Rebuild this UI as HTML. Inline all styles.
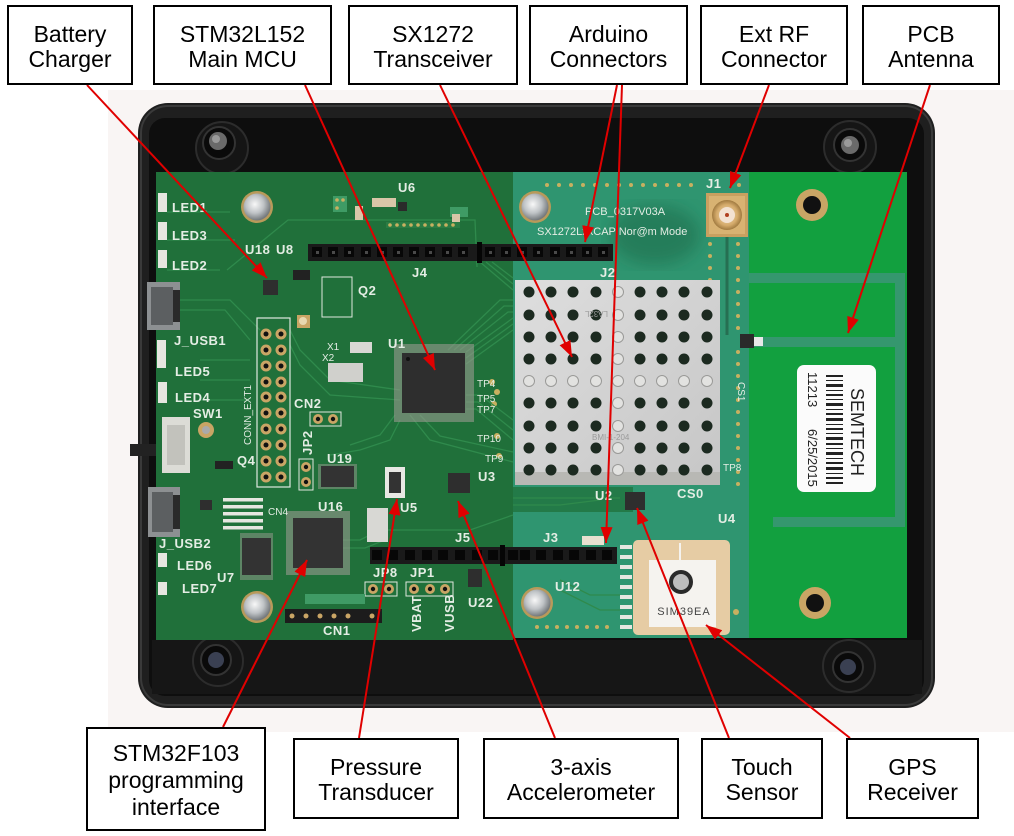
<!DOCTYPE html>
<html><head><meta charset="utf-8">
<style>
html,body{margin:0;padding:0;background:#fff;}
svg{display:block}
.lbl{font-family:"Liberation Sans",Arial,sans-serif;font-size:23px;fill:#000;text-anchor:middle}
.s{font-family:"Liberation Sans",Arial,sans-serif;font-size:13px;fill:#e4ede4;letter-spacing:0.5px;font-weight:bold}
.ss{font-family:"Liberation Sans",Arial,sans-serif;font-size:10px;fill:#e4ede4}
.box{fill:#fff;stroke:#000;stroke-width:2}
.ar{stroke:#e00000;stroke-width:2;fill:none}
.tr{stroke:#2f8a4c;stroke-width:1.3;fill:none}
</style></head><body>
<svg width="1014" height="836" viewBox="0 0 1014 836" xmlns="http://www.w3.org/2000/svg">
<defs>
 <marker id="ah" markerUnits="userSpaceOnUse" markerWidth="16" markerHeight="12" refX="16" refY="6" orient="auto">
  <path d="M0,0 L16,6 L0,12 z" fill="#e00000"/>
 </marker>
 <radialGradient id="scr" cx="42%" cy="40%" r="60%">
  <stop offset="0" stop-color="#f8f8f8"/><stop offset="0.55" stop-color="#bfc3c6"/><stop offset="1" stop-color="#73787b"/>
 </radialGradient>
 <linearGradient id="shg" x1="0" y1="0" x2="1" y2="1">
  <stop offset="0" stop-color="#dedede"/><stop offset="1" stop-color="#c6c6c6"/>
 </linearGradient>
 <radialGradient id="sma" cx="50%" cy="50%" r="50%">
  <stop offset="0" stop-color="#f2dcb8"/><stop offset="0.7" stop-color="#d4aa6a"/><stop offset="1" stop-color="#a07a40"/>
 </radialGradient>
 <filter id="bl"><feGaussianBlur stdDeviation="8"/></filter>
</defs>

<!-- photo background -->
<rect x="108" y="90" width="906" height="642" fill="#f9f5f4"/>

<!-- enclosure -->
<rect x="138" y="103" width="797" height="605" rx="30" fill="#1f1f1f"/>
<rect x="141" y="106" width="791" height="599" rx="27" fill="none" stroke="#3a3a3a" stroke-width="2"/>
<rect x="149" y="118" width="775" height="578" rx="16" fill="#0e0e0e"/>
<rect x="152" y="640" width="770" height="54" fill="#161616"/>
<path d="M130 444 L157 444 L157 456 L130 456 Z" fill="#222"/>

<!-- rubber feet -->
<g>
 <circle cx="222" cy="148" r="26" fill="#151515" stroke="#2c2c2c" stroke-width="2"/>
 <circle cx="219" cy="143" r="16" fill="#0a0a0a" stroke="#333" stroke-width="2"/>
 <circle cx="218" cy="141" r="9" fill="#6a6a6a"/><circle cx="216" cy="139" r="4" fill="#9a9a9a"/>
 <circle cx="850" cy="147" r="26" fill="#151515" stroke="#2c2c2c" stroke-width="2"/>
 <circle cx="850" cy="145" r="16" fill="#0a0a0a" stroke="#333" stroke-width="2"/>
 <circle cx="850" cy="145" r="9" fill="#6a6a6a"/><circle cx="848" cy="143" r="4" fill="#9a9a9a"/>
 <circle cx="218" cy="661" r="25" fill="#151515" stroke="#2c2c2c" stroke-width="2"/>
 <circle cx="216" cy="660" r="15" fill="#0a0a0a" stroke="#333" stroke-width="2"/>
 <circle cx="216" cy="660" r="8" fill="#3a4052"/>
 <circle cx="849" cy="666" r="26" fill="#151515" stroke="#2c2c2c" stroke-width="2"/>
 <circle cx="848" cy="667" r="15" fill="#0a0a0a" stroke="#333" stroke-width="2"/>
 <circle cx="848" cy="667" r="8" fill="#3a4052"/>
</g>

<!-- PCB -->
<rect x="156" y="172" width="357" height="468" fill="#20703a"/>
<rect x="513" y="172" width="236" height="466" fill="#2f9570"/>
<rect x="749" y="172" width="158" height="466" fill="#12a03f"/>
<ellipse cx="655" cy="235" rx="45" ry="30" fill="#1d6a4a" opacity="0.55" filter="url(#bl)"/>
<rect x="513" y="487" width="120" height="25" fill="#237a48"/>

<!-- antenna traces -->
<g stroke="#35976e" stroke-width="10" fill="none">
 <path d="M749 278 L900 278 L900 522 L773 522"/>
 <path d="M752 342 L900 342"/>
</g>
<rect x="754" y="337" width="9" height="9" fill="#e8e8e8"/>
<rect x="740" y="334" width="14" height="14" fill="#2a2a2a"/>

<!-- via columns / dots -->
<g fill="#c8b060">
 <circle cx="547" cy="185" r="2"/><circle cx="559" cy="185" r="2"/><circle cx="571" cy="185" r="2"/><circle cx="583" cy="185" r="2"/><circle cx="595" cy="185" r="2"/><circle cx="607" cy="185" r="2"/><circle cx="619" cy="185" r="2"/><circle cx="631" cy="185" r="2"/><circle cx="643" cy="185" r="2"/><circle cx="655" cy="185" r="2"/><circle cx="667" cy="185" r="2"/><circle cx="679" cy="185" r="2"/><circle cx="691" cy="185" r="2"/><circle cx="739" cy="185" r="2"/>
 <circle cx="738" cy="244" r="2"/><circle cx="738" cy="256" r="2"/><circle cx="738" cy="268" r="2"/><circle cx="738" cy="280" r="2"/><circle cx="738" cy="292" r="2"/><circle cx="738" cy="304" r="2"/><circle cx="738" cy="316" r="2"/><circle cx="738" cy="328" r="2"/><circle cx="738" cy="352" r="2"/><circle cx="738" cy="364" r="2"/><circle cx="738" cy="376" r="2"/><circle cx="738" cy="388" r="2"/><circle cx="738" cy="400" r="2"/><circle cx="738" cy="412" r="2"/><circle cx="738" cy="424" r="2"/><circle cx="738" cy="436" r="2"/><circle cx="738" cy="448" r="2"/><circle cx="738" cy="460" r="2"/><circle cx="738" cy="472" r="2"/><circle cx="738" cy="484" r="2"/>
 <circle cx="710" cy="244" r="2"/><circle cx="710" cy="256" r="2"/><circle cx="710" cy="268" r="2"/><circle cx="710" cy="280" r="2"/>
 <circle cx="537" cy="627" r="2"/><circle cx="547" cy="627" r="2"/><circle cx="557" cy="627" r="2"/><circle cx="567" cy="627" r="2"/><circle cx="577" cy="627" r="2"/><circle cx="587" cy="627" r="2"/><circle cx="597" cy="627" r="2"/><circle cx="607" cy="627" r="2"/>
 <circle cx="492" cy="382" r="3"/><circle cx="497" cy="392" r="3"/><circle cx="494" cy="404" r="3"/><circle cx="497" cy="436" r="3"/><circle cx="499" cy="456" r="3"/>
 <circle cx="690" cy="455" r="3"/><circle cx="736" cy="612" r="3"/>
</g>

<!-- traces on main PCB -->
<g class="tr">
 <path d="M227 270 L288 220 L475 220 L477 267"/>
 <path d="M448 350 L500 300 L513 300"/><path d="M454 350 L504 306 L513 306"/><path d="M460 350 L508 312 L513 312"/>
 <path d="M466 352 L513 318"/><path d="M466 358 L513 324"/><path d="M466 364 L513 330"/>
 <path d="M480 262 L513 290"/><path d="M486 262 L513 284"/><path d="M492 262 L513 278"/>
 <path d="M466 395 L480 395 L513 420"/><path d="M466 402 L478 402 L513 430"/><path d="M466 409 L476 409 L513 440"/>
 <path d="M410 415 L430 440 L513 462"/><path d="M420 415 L440 436 L513 452"/>
 <path d="M400 420 L390 440 L360 450 L330 455"/><path d="M395 415 L380 435 L350 445"/>
 <path d="M343 540 L360 540 L380 530 L470 530 L513 515"/><path d="M343 548 L365 548 L385 540"/>
 <path d="M290 330 L300 350 L330 380 L400 390"/><path d="M290 345 L300 365 L330 395 L400 400"/>
 <path d="M180 300 L230 300 L260 330"/><path d="M180 310 L225 310 L250 340"/>
 <path d="M167 212 L230 212"/><path d="M167 240 L235 240"/><path d="M167 270 L220 270"/>
 <path d="M200 360 L250 360"/><path d="M200 380 L250 380"/><path d="M200 400 L250 400"/>
 <path d="M513 505 L560 505 L600 500"/><path d="M513 498 L620 498"/>
 <path d="M560 590 L600 610 L620 610"/><path d="M560 580 L590 595 L620 595"/>
</g>

<!-- screws -->
<g>
 <circle cx="257" cy="207" r="16" fill="#b89a5a"/><circle cx="257" cy="207" r="13.5" fill="url(#scr)"/>
 <circle cx="257" cy="607" r="16" fill="#b89a5a"/><circle cx="257" cy="607" r="13.5" fill="url(#scr)"/>
 <circle cx="535" cy="207" r="16" fill="#b89a5a"/><circle cx="535" cy="207" r="13.5" fill="url(#scr)"/>
 <circle cx="537" cy="603" r="16" fill="#b89a5a"/><circle cx="537" cy="603" r="13.5" fill="url(#scr)"/>
</g>
<!-- gold holes -->
<circle cx="812" cy="205" r="16" fill="#c9a565"/><circle cx="812" cy="205" r="9" fill="#111"/>
<circle cx="815" cy="603" r="16" fill="#c9a565"/><circle cx="815" cy="603" r="9" fill="#111"/>

<!-- U6 small module -->
<rect x="333" y="196" width="14" height="16" fill="#3f9b65"/>
<circle cx="337" cy="200" r="1.8" fill="#c8b060"/><circle cx="343" cy="200" r="1.8" fill="#c8b060"/><circle cx="337" cy="208" r="1.8" fill="#c8b060"/>
<rect x="372" y="198" width="24" height="9" fill="#d9c6a8"/>
<rect x="355" y="206" width="8" height="14" fill="#d9c6a8"/>
<rect x="398" y="202" width="9" height="9" fill="#2a2a2a"/>
<rect x="450" y="207" width="18" height="10" fill="#3f9b65"/>
<rect x="452" y="214" width="8" height="10" fill="#d9c6a8"/>
<rect x="386" y="222" width="74" height="6" fill="#2a7c44"/>
<g fill="#c8b060"><circle cx="390" cy="225" r="1.8"/><circle cx="397" cy="225" r="1.8"/><circle cx="404" cy="225" r="1.8"/><circle cx="411" cy="225" r="1.8"/><circle cx="418" cy="225" r="1.8"/><circle cx="425" cy="225" r="1.8"/><circle cx="432" cy="225" r="1.8"/><circle cx="439" cy="225" r="1.8"/><circle cx="446" cy="225" r="1.8"/><circle cx="453" cy="225" r="1.8"/></g>

<!-- headers J4/J2 -->
<rect x="308" y="244" width="305" height="17" fill="#1a1a1a"/>
<rect x="477" y="242" width="5" height="21" fill="#050505"/>
<g fill="#070707">
 <rect x="312" y="247" width="10" height="10"/><rect x="328" y="247" width="10" height="10"/><rect x="344" y="247" width="10" height="10"/><rect x="361" y="247" width="10" height="10"/><rect x="377" y="247" width="10" height="10"/><rect x="393" y="247" width="10" height="10"/><rect x="409" y="247" width="10" height="10"/><rect x="425" y="247" width="10" height="10"/><rect x="442" y="247" width="10" height="10"/><rect x="458" y="247" width="10" height="10"/>
 <rect x="485" y="247" width="10" height="10"/><rect x="501" y="247" width="10" height="10"/><rect x="517" y="247" width="10" height="10"/><rect x="533" y="247" width="10" height="10"/><rect x="550" y="247" width="10" height="10"/><rect x="566" y="247" width="10" height="10"/><rect x="582" y="247" width="10" height="10"/><rect x="598" y="247" width="10" height="10"/>
</g>
<g fill="#4a4a4a">
 <rect x="316" y="251" width="3" height="3"/><rect x="332" y="251" width="3" height="3"/><rect x="348" y="251" width="3" height="3"/><rect x="365" y="251" width="3" height="3"/><rect x="381" y="251" width="3" height="3"/><rect x="397" y="251" width="3" height="3"/><rect x="413" y="251" width="3" height="3"/><rect x="429" y="251" width="3" height="3"/><rect x="446" y="251" width="3" height="3"/><rect x="462" y="251" width="3" height="3"/>
 <rect x="489" y="251" width="3" height="3"/><rect x="505" y="251" width="3" height="3"/><rect x="521" y="251" width="3" height="3"/><rect x="537" y="251" width="3" height="3"/><rect x="554" y="251" width="3" height="3"/><rect x="570" y="251" width="3" height="3"/><rect x="586" y="251" width="3" height="3"/><rect x="602" y="251" width="3" height="3"/>
</g>

<!-- headers J5/J3 -->
<rect x="370" y="547" width="247" height="17" fill="#1a1a1a"/>
<rect x="500" y="545" width="5" height="21" fill="#050505"/>
<g fill="#070707">
 <rect x="372" y="550" width="10" height="10"/><rect x="388" y="550" width="10" height="10"/><rect x="405" y="550" width="10" height="10"/><rect x="422" y="550" width="10" height="10"/><rect x="438" y="550" width="10" height="10"/><rect x="455" y="550" width="10" height="10"/><rect x="472" y="550" width="10" height="10"/><rect x="488" y="550" width="10" height="10"/>
 <rect x="508" y="550" width="10" height="10"/><rect x="520" y="550" width="10" height="10"/><rect x="536" y="550" width="10" height="10"/><rect x="553" y="550" width="10" height="10"/><rect x="569" y="550" width="10" height="10"/><rect x="586" y="550" width="10" height="10"/><rect x="602" y="550" width="10" height="10"/>
</g>
<rect x="582" y="536" width="22" height="9" fill="#e8e0d0"/>

<!-- CONN_EXT1 -->
<rect x="257" y="318" width="33" height="169" fill="none" stroke="#dfe8df" stroke-width="1.2"/>
<g fill="#c9a565">
 <circle cx="266" cy="334" r="5.5"/><circle cx="281" cy="334" r="5.5"/><circle cx="266" cy="350" r="5.5"/><circle cx="281" cy="350" r="5.5"/><circle cx="266" cy="366" r="5.5"/><circle cx="281" cy="366" r="5.5"/><circle cx="266" cy="382" r="5.5"/><circle cx="281" cy="382" r="5.5"/><circle cx="266" cy="397" r="5.5"/><circle cx="281" cy="397" r="5.5"/><circle cx="266" cy="413" r="5.5"/><circle cx="281" cy="413" r="5.5"/><circle cx="266" cy="429" r="5.5"/><circle cx="281" cy="429" r="5.5"/><circle cx="266" cy="445" r="5.5"/><circle cx="281" cy="445" r="5.5"/><circle cx="266" cy="461" r="5.5"/><circle cx="281" cy="461" r="5.5"/><circle cx="266" cy="477" r="5.5"/><circle cx="281" cy="477" r="5.5"/>
 <circle cx="318" cy="419" r="5"/><circle cx="333" cy="419" r="5"/>
 <circle cx="306" cy="467" r="5"/><circle cx="306" cy="482" r="5"/>
 <circle cx="373" cy="589" r="5"/><circle cx="389" cy="589" r="5"/>
 <circle cx="414" cy="589" r="5"/><circle cx="430" cy="589" r="5"/><circle cx="445" cy="589" r="5"/>
</g>
<g fill="#111">
 <circle cx="266" cy="334" r="2.5"/><circle cx="281" cy="334" r="2.5"/><circle cx="266" cy="350" r="2.5"/><circle cx="281" cy="350" r="2.5"/><circle cx="266" cy="366" r="2.5"/><circle cx="281" cy="366" r="2.5"/><circle cx="266" cy="382" r="2.5"/><circle cx="281" cy="382" r="2.5"/><circle cx="266" cy="397" r="2.5"/><circle cx="281" cy="397" r="2.5"/><circle cx="266" cy="413" r="2.5"/><circle cx="281" cy="413" r="2.5"/><circle cx="266" cy="429" r="2.5"/><circle cx="281" cy="429" r="2.5"/><circle cx="266" cy="445" r="2.5"/><circle cx="281" cy="445" r="2.5"/><circle cx="266" cy="461" r="2.5"/><circle cx="281" cy="461" r="2.5"/><circle cx="266" cy="477" r="2.5"/><circle cx="281" cy="477" r="2.5"/>
 <circle cx="318" cy="419" r="2.2"/><circle cx="333" cy="419" r="2.2"/><circle cx="306" cy="467" r="2.2"/><circle cx="306" cy="482" r="2.2"/>
 <circle cx="373" cy="589" r="2.2"/><circle cx="389" cy="589" r="2.2"/><circle cx="414" cy="589" r="2.2"/><circle cx="430" cy="589" r="2.2"/><circle cx="445" cy="589" r="2.2"/>
</g>
<g fill="none" stroke="#dfe8df" stroke-width="1">
 <rect x="310" y="412" width="31" height="14"/><rect x="299" y="459" width="14" height="31"/>
 <rect x="365" y="582" width="32" height="14"/><rect x="406" y="582" width="47" height="14"/>
</g>

<!-- CN1 -->
<rect x="285" y="609" width="97" height="14" fill="#1c1c1c"/>
<g fill="#c9a565"><circle cx="292" cy="616" r="2.5"/><circle cx="306" cy="616" r="2.5"/><circle cx="320" cy="616" r="2.5"/><circle cx="334" cy="616" r="2.5"/><circle cx="348" cy="616" r="2.5"/><circle cx="372" cy="616" r="2.5"/></g>
<rect x="305" y="594" width="60" height="10" fill="#3f9b65"/>

<!-- USB connectors -->
<rect x="147" y="282" width="33" height="48" fill="#8d9092"/><rect x="151" y="287" width="22" height="38" fill="#5c5f61"/><rect x="173" y="290" width="7" height="32" fill="#2a2a2a"/>
<rect x="148" y="487" width="32" height="50" fill="#8d9092"/><rect x="152" y="492" width="21" height="40" fill="#5c5f61"/><rect x="173" y="495" width="7" height="34" fill="#2a2a2a"/>
<!-- SW1 -->
<rect x="162" y="417" width="28" height="56" fill="#dcdcd6"/><rect x="167" y="425" width="18" height="40" fill="#c2c2bc"/>
<circle cx="206" cy="430" r="8" fill="#c9a565"/><circle cx="206" cy="430" r="4" fill="#aaa"/>
<!-- LED pads -->
<g fill="#e6e6e0">
 <rect x="158" y="193" width="9" height="19"/><rect x="158" y="222" width="9" height="18"/><rect x="158" y="250" width="9" height="18"/>
 <rect x="157" y="340" width="9" height="28"/><rect x="158" y="382" width="9" height="21"/><rect x="158" y="553" width="9" height="14"/><rect x="158" y="582" width="9" height="13"/>
</g>

<!-- chips -->
<g>
 <rect x="394" y="344" width="80" height="78" fill="#9a9a90" opacity="0.6"/>
 <rect x="402" y="353" width="63" height="60" fill="#2e2e2e"/>
 <circle cx="408" cy="359" r="2" fill="#111"/>
 <rect x="286" y="511" width="64" height="64" fill="#9a9a90" opacity="0.6"/>
 <rect x="293" y="518" width="50" height="50" fill="#333"/>
 <rect x="240" y="533" width="33" height="47" fill="#9a9a90" opacity="0.5"/>
 <rect x="242" y="538" width="29" height="37" fill="#333"/>
 <rect x="318" y="464" width="39" height="25" fill="#9a9a90" opacity="0.5"/>
 <rect x="321" y="466" width="33" height="21" fill="#333"/>
 <rect x="448" y="473" width="22" height="20" fill="#2e2e2e"/>
 <rect x="625" y="492" width="20" height="18" fill="#2e2e2e"/>
 <rect x="263" y="280" width="15" height="15" fill="#2e2e2e"/>
 <rect x="293" y="270" width="17" height="10" fill="#222"/>
 <rect x="468" y="569" width="14" height="18" fill="#2e2e2e"/>
 <rect x="200" y="500" width="12" height="10" fill="#2e2e2e"/>
 <rect x="215" y="461" width="18" height="8" fill="#222"/>
 <rect x="385" y="467" width="20" height="31" fill="#e8e8e4"/><rect x="389" y="472" width="12" height="21" fill="#333"/>
 <rect x="367" y="508" width="21" height="34" fill="#d8d8d4"/>
 <rect x="350" y="342" width="22" height="11" fill="#d8d8d4"/>
 <rect x="328" y="363" width="35" height="19" fill="#d0d0cc"/>
 <rect x="322" y="277" width="30" height="40" fill="none" stroke="#dfe8df" stroke-width="1"/>
 <rect x="297" y="315" width="13" height="13" fill="#c9a565"/><circle cx="303" cy="321" r="4" fill="#e8d8b0"/>
 <rect x="223" y="498" width="40" height="3.5" fill="#e6e6e0"/><rect x="223" y="505" width="40" height="3.5" fill="#e6e6e0"/><rect x="223" y="512" width="40" height="3.5" fill="#e6e6e0"/><rect x="223" y="519" width="40" height="3.5" fill="#e6e6e0"/><rect x="223" y="526" width="40" height="3.5" fill="#e6e6e0"/>
</g>
<!-- right column pads near GPS -->
<g fill="#e6e6e0"><rect x="620" y="545" width="12" height="4"/><rect x="620" y="555" width="12" height="4"/><rect x="620" y="565" width="12" height="4"/><rect x="620" y="575" width="12" height="4"/><rect x="620" y="585" width="12" height="4"/><rect x="620" y="595" width="12" height="4"/><rect x="620" y="605" width="12" height="4"/><rect x="620" y="615" width="12" height="4"/><rect x="620" y="625" width="12" height="4"/></g>

<!-- shield -->
<rect x="515" y="280" width="205" height="205" fill="url(#shg)"/>
<rect x="515" y="472" width="205" height="13" fill="#b8b8b4"/>
<g fill="#1c2a20">
 <circle cx="529" cy="292" r="5.5"/><circle cx="551" cy="292" r="5.5"/><circle cx="573" cy="292" r="5.5"/><circle cx="596" cy="292" r="5.5"/><circle cx="640" cy="292" r="5.5"/><circle cx="662" cy="292" r="5.5"/><circle cx="684" cy="292" r="5.5"/><circle cx="707" cy="292" r="5.5"/>
 <circle cx="529" cy="315" r="5.5"/><circle cx="551" cy="315" r="5.5"/><circle cx="573" cy="315" r="5.5"/><circle cx="596" cy="315" r="5.5"/><circle cx="640" cy="315" r="5.5"/><circle cx="662" cy="315" r="5.5"/><circle cx="684" cy="315" r="5.5"/><circle cx="707" cy="315" r="5.5"/>
 <circle cx="529" cy="337" r="5.5"/><circle cx="551" cy="337" r="5.5"/><circle cx="573" cy="337" r="5.5"/><circle cx="596" cy="337" r="5.5"/><circle cx="640" cy="337" r="5.5"/><circle cx="662" cy="337" r="5.5"/><circle cx="684" cy="337" r="5.5"/><circle cx="707" cy="337" r="5.5"/>
 <circle cx="529" cy="359" r="5.5"/><circle cx="551" cy="359" r="5.5"/><circle cx="573" cy="359" r="5.5"/><circle cx="596" cy="359" r="5.5"/><circle cx="640" cy="359" r="5.5"/><circle cx="662" cy="359" r="5.5"/><circle cx="684" cy="359" r="5.5"/><circle cx="707" cy="359" r="5.5"/>
 <circle cx="529" cy="403" r="5.5"/><circle cx="551" cy="403" r="5.5"/><circle cx="573" cy="403" r="5.5"/><circle cx="596" cy="403" r="5.5"/><circle cx="640" cy="403" r="5.5"/><circle cx="662" cy="403" r="5.5"/><circle cx="684" cy="403" r="5.5"/><circle cx="707" cy="403" r="5.5"/>
 <circle cx="529" cy="426" r="5.5"/><circle cx="551" cy="426" r="5.5"/><circle cx="573" cy="426" r="5.5"/><circle cx="596" cy="426" r="5.5"/><circle cx="640" cy="426" r="5.5"/><circle cx="662" cy="426" r="5.5"/><circle cx="684" cy="426" r="5.5"/><circle cx="707" cy="426" r="5.5"/>
 <circle cx="529" cy="448" r="5.5"/><circle cx="551" cy="448" r="5.5"/><circle cx="573" cy="448" r="5.5"/><circle cx="596" cy="448" r="5.5"/><circle cx="640" cy="448" r="5.5"/><circle cx="662" cy="448" r="5.5"/><circle cx="684" cy="448" r="5.5"/><circle cx="707" cy="448" r="5.5"/>
 <circle cx="529" cy="470" r="5.5"/><circle cx="551" cy="470" r="5.5"/><circle cx="573" cy="470" r="5.5"/><circle cx="596" cy="470" r="5.5"/><circle cx="640" cy="470" r="5.5"/><circle cx="662" cy="470" r="5.5"/><circle cx="684" cy="470" r="5.5"/><circle cx="707" cy="470" r="5.5"/>
</g>
<g fill="#e2e2e0" stroke="#9a9a98" stroke-width="1">
 <circle cx="618" cy="292" r="5.5"/><circle cx="618" cy="315" r="5.5"/><circle cx="618" cy="337" r="5.5"/><circle cx="618" cy="359" r="5.5"/><circle cx="618" cy="403" r="5.5"/><circle cx="618" cy="426" r="5.5"/><circle cx="618" cy="448" r="5.5"/><circle cx="618" cy="470" r="5.5"/>
 <circle cx="529" cy="381" r="5.5"/><circle cx="551" cy="381" r="5.5"/><circle cx="573" cy="381" r="5.5"/><circle cx="596" cy="381" r="5.5"/><circle cx="618" cy="381" r="5.5"/><circle cx="640" cy="381" r="5.5"/><circle cx="662" cy="381" r="5.5"/><circle cx="684" cy="381" r="5.5"/><circle cx="707" cy="381" r="5.5"/>
</g>
<text x="598" y="317" font-family="Liberation Sans,sans-serif" font-size="8" fill="#9a9a9a" transform="rotate(180 603 314)">LA32L</text>
<text x="592" y="440" font-family="Liberation Sans,sans-serif" font-size="8" fill="#9a9a9a">BMI-1-204</text>

<!-- SMA connector J1 -->
<rect x="706" y="193" width="42" height="44" fill="#c9a060"/>
<rect x="709" y="196" width="36" height="38" fill="#d8b272"/>
<circle cx="727" cy="215" r="15" fill="url(#sma)"/>
<circle cx="727" cy="215" r="8" fill="#f3e2d2"/>
<circle cx="727" cy="215" r="2" fill="#b04020"/>
<line x1="727" y1="237" x2="727" y2="335" stroke="#266f52" stroke-width="3"/>

<!-- GPS patch -->
<rect x="633" y="540" width="97" height="95" rx="5" fill="#e6cca4"/>
<rect x="649" y="560" width="67" height="67" fill="#f5f3ef"/>
<line x1="680" y1="543" x2="680" y2="560" stroke="#f5f3ef" stroke-width="2"/>
<circle cx="681" cy="582" r="12" fill="#2a2a2a"/>
<circle cx="681" cy="582" r="8" fill="#bdbdbd"/>
<text x="684" y="615" font-family="Liberation Sans,sans-serif" font-size="11" fill="#444" text-anchor="middle" letter-spacing="1">SIM39EA</text>

<!-- SEMTECH label -->
<rect x="797" y="365" width="79" height="127" rx="7" fill="#fbfbfb"/>
<text transform="translate(851,388) rotate(90)" font-family="Liberation Sans,sans-serif" font-size="18" fill="#222">SEMTECH</text>
<g fill="#222">
 <rect x="826" y="375" width="17" height="2"/><rect x="826" y="380" width="17" height="1"/><rect x="826" y="384" width="17" height="3"/><rect x="826" y="390" width="17" height="1"/><rect x="826" y="394" width="17" height="2"/><rect x="826" y="399" width="17" height="1"/><rect x="826" y="403" width="17" height="3"/><rect x="826" y="409" width="17" height="1"/><rect x="826" y="413" width="17" height="2"/><rect x="826" y="418" width="17" height="3"/><rect x="826" y="424" width="17" height="1"/><rect x="826" y="428" width="17" height="2"/><rect x="826" y="433" width="17" height="1"/><rect x="826" y="437" width="17" height="3"/><rect x="826" y="443" width="17" height="2"/><rect x="826" y="448" width="17" height="1"/><rect x="826" y="452" width="17" height="3"/><rect x="826" y="458" width="17" height="1"/><rect x="826" y="462" width="17" height="2"/><rect x="826" y="467" width="17" height="3"/><rect x="826" y="473" width="17" height="1"/><rect x="826" y="477" width="17" height="2"/><rect x="826" y="482" width="17" height="2"/>
</g>
<text transform="translate(808,372) rotate(90)" font-family="Liberation Sans,sans-serif" font-size="13" fill="#222">11213</text>
<text transform="translate(808,429) rotate(90)" font-family="Liberation Sans,sans-serif" font-size="13" fill="#222">6/25/2015</text>

<!-- silkscreen labels -->
<g class="s">
 <text x="172" y="212">LED1</text><text x="172" y="240">LED3</text><text x="172" y="270">LED2</text>
 <text x="174" y="345">J_USB1</text><text x="175" y="376">LED5</text><text x="175" y="402">LED4</text>
 <text x="193" y="418">SW1</text><text x="237" y="465">Q4</text><text x="159" y="548">J_USB2</text>
 <text x="177" y="570">LED6</text><text x="217" y="582">U7</text><text x="182" y="593">LED7</text>
 <text x="245" y="254">U18</text><text x="276" y="254">U8</text><text x="398" y="192">U6</text>
 <text x="412" y="277">J4</text><text x="358" y="295">Q2</text><text x="388" y="348">U1</text>
 <text x="294" y="408">CN2</text><text x="327" y="463">U19</text><text x="318" y="511">U16</text>
 <text x="400" y="512">U5</text><text x="478" y="481">U3</text><text x="455" y="542">J5</text>
 <text x="373" y="577">JP8</text><text x="410" y="577">JP1</text><text x="468" y="607">U22</text>
 <text x="323" y="635">CN1</text><text x="543" y="542">J3</text><text x="555" y="591">U12</text>
 <text x="595" y="500">U2</text><text x="677" y="498">CS0</text><text x="718" y="523">U4</text>
 <text x="706" y="188">J1</text><text x="600" y="277">J2</text>
 <text transform="translate(421,632) rotate(-90)">VBAT</text>
 <text transform="translate(454,632) rotate(-90)">VUSB</text>
 <text transform="translate(312,455) rotate(-90)">JP2</text>
</g>
<g class="ss">
 <text x="327" y="350">X1</text><text x="322" y="361">X2</text>
 <text x="268" y="515">CN4</text>
 <text x="477" y="387">TP4</text><text x="477" y="402">TP5</text><text x="477" y="413">TP7</text>
 <text x="477" y="442">TP10</text><text x="485" y="462">TP9</text><text x="723" y="471">TP8</text>
 <text x="585" y="215" font-size="11">PCB_0317V03A</text>
 <text x="537" y="235" font-size="11">SX1272LxxCAP Nor@m Mode</text>
 <text transform="translate(251,445) rotate(-90)">CONN_EXT1</text>
 <text transform="translate(738,382) rotate(90)">CS1</text>
</g>

<!-- red arrows -->
<g class="ar">
 <line x1="87" y1="85" x2="267" y2="278" marker-end="url(#ah)"/>
 <line x1="305" y1="85" x2="435" y2="370" marker-end="url(#ah)"/>
 <line x1="440" y1="85" x2="572" y2="357" marker-end="url(#ah)"/>
 <line x1="617" y1="85" x2="585" y2="242" marker-end="url(#ah)"/>
 <line x1="622" y1="85" x2="606" y2="543" marker-end="url(#ah)"/>
 <line x1="769" y1="85" x2="730" y2="188" marker-end="url(#ah)"/>
 <line x1="930" y1="85" x2="848" y2="333" marker-end="url(#ah)"/>
 <line x1="223" y1="727" x2="307" y2="560" marker-end="url(#ah)"/>
 <line x1="359" y1="738" x2="397" y2="499" marker-end="url(#ah)"/>
 <line x1="555" y1="738" x2="458" y2="501" marker-end="url(#ah)"/>
 <line x1="729" y1="738" x2="637" y2="508" marker-end="url(#ah)"/>
 <line x1="850" y1="738" x2="706" y2="625" marker-end="url(#ah)"/>
</g>

<!-- label boxes top -->
<rect class="box" x="8" y="6" width="124" height="78"/>
<text class="lbl" x="70" y="42">Battery</text><text class="lbl" x="70" y="67">Charger</text>
<rect class="box" x="154" y="6" width="177" height="78"/>
<text class="lbl" x="242.5" y="42">STM32L152</text><text class="lbl" x="242.5" y="67">Main MCU</text>
<rect class="box" x="349" y="6" width="168" height="78"/>
<text class="lbl" x="433" y="42">SX1272</text><text class="lbl" x="433" y="67">Transceiver</text>
<rect class="box" x="530" y="6" width="157" height="78"/>
<text class="lbl" x="608.5" y="42">Arduino</text><text class="lbl" x="608.5" y="67">Connectors</text>
<rect class="box" x="701" y="6" width="146" height="78"/>
<text class="lbl" x="774" y="42">Ext RF</text><text class="lbl" x="774" y="67">Connector</text>
<rect class="box" x="863" y="6" width="136" height="78"/>
<text class="lbl" x="931" y="42">PCB</text><text class="lbl" x="931" y="67">Antenna</text>

<!-- label boxes bottom -->
<rect class="box" x="87" y="728" width="178" height="102"/>
<text class="lbl" x="176" y="761">STM32F103</text><text class="lbl" x="176" y="788">programming</text><text class="lbl" x="176" y="815">interface</text>
<rect class="box" x="294" y="739" width="164" height="79"/>
<text class="lbl" x="376" y="775">Pressure</text><text class="lbl" x="376" y="800">Transducer</text>
<rect class="box" x="484" y="739" width="194" height="79"/>
<text class="lbl" x="581" y="775">3-axis</text><text class="lbl" x="581" y="800">Accelerometer</text>
<rect class="box" x="702" y="739" width="120" height="79"/>
<text class="lbl" x="762" y="775">Touch</text><text class="lbl" x="762" y="800">Sensor</text>
<rect class="box" x="847" y="739" width="131" height="79"/>
<text class="lbl" x="912.5" y="775">GPS</text><text class="lbl" x="912.5" y="800">Receiver</text>
</svg>
</body></html>
